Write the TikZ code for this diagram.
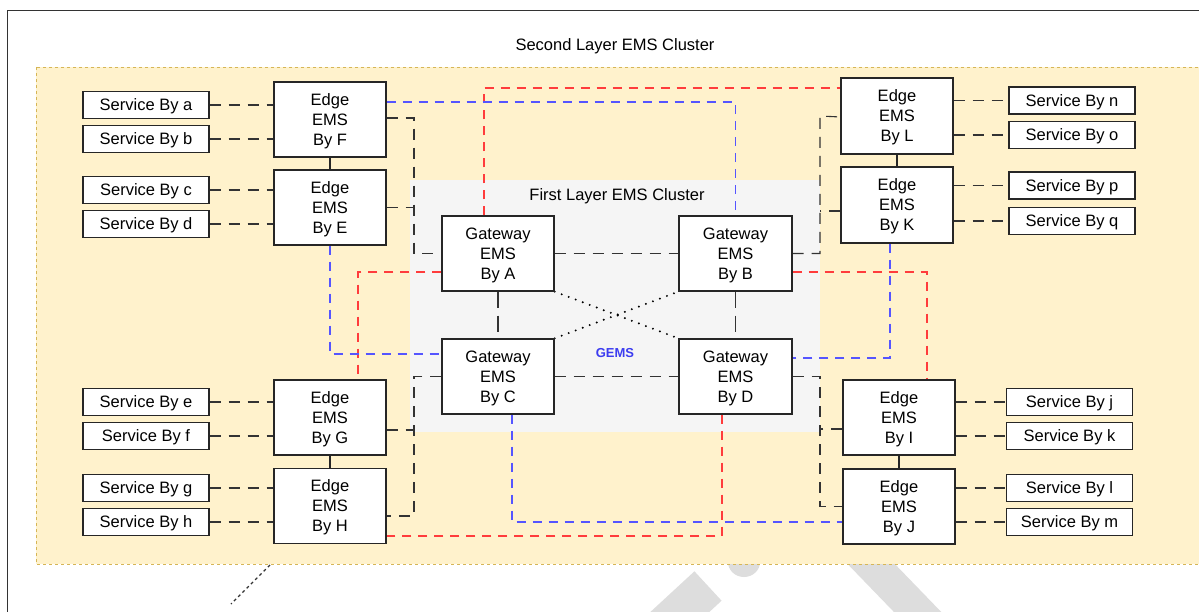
\documentclass[tikz,border=0pt]{standalone}
\usepackage{fontspec}
\setmainfont{Liberation Sans}
\pgfdeclarelayer{bg}
\pgfdeclarelayer{lines}
\pgfsetlayers{bg,lines,main}
\definecolor{yelfill}{HTML}{FFF2CC}
\definecolor{yelline}{HTML}{D6B656}
\definecolor{grfill}{HTML}{F5F5F5}
\definecolor{wmgray}{HTML}{DDDDDD}
\definecolor{redl}{RGB}{255,60,60}
\definecolor{bluel}{RGB}{85,85,255}
\definecolor{gemsblue}{RGB}{60,60,240}
\tikzset{
  txt/.style={font=\fontsize{16.5}{20}\selectfont},
  svc/.style={draw=black!85, line width=1.3pt, fill=white, minimum width=126pt, minimum height=27pt, inner sep=0pt, text height=11.9pt, text depth=0pt, txt},
  emsbox/.style={draw=black!85, line width=1.3pt, fill=white, minimum width=112pt, minimum height=75pt, inner sep=0pt, align=center, text depth=0pt, txt},
  blk/.style={draw=black!80, line width=1.1pt, dash pattern=on 11pt off 8pt},
  solidl/.style={draw=black!85, line width=1.1pt},
  rdash/.style={draw=redl, line width=1.1pt, dash pattern=on 9pt off 7pt},
  bdash/.style={draw=bluel, line width=1.1pt, dash pattern=on 9pt off 7pt},
  dots/.style={draw=black, line width=2.2pt, line cap=round, dash pattern=on 0pt off 7.5pt},
}
\begin{document}
\begin{tikzpicture}[x=1pt,y=-1pt]
\useasboundingbox (0,0) rectangle (1199,612);

% ---------- nodes ----------
\node[svc] (sa) at (146,105) {Service By a};
\node[svc] (sb) at (146,139) {Service By b};
\node[svc] (sc) at (146,190) {Service By c};
\node[svc] (sd) at (146,224) {Service By d};
\node[svc] (se) at (146,402) {Service By e};
\node[svc] (sf) at (146,436) {Service By f};
\node[svc] (sg) at (146,488) {Service By g};
\node[svc] (sh) at (146,522) {Service By h};

\node[svc] (sn) at (1072,100.5) {Service By n};
\node[svc] (so) at (1072,135) {Service By o};
\node[svc] (sp) at (1072,185.5) {Service By p};
\node[svc] (sq) at (1072,221) {Service By q};
\node[svc] (sj) at (1069.5,402) {Service By j};
\node[svc] (sk) at (1069.5,436) {Service By k};
\node[svc] (sl) at (1069.5,488) {Service By l};
\node[svc] (sm) at (1069.5,522) {Service By m};

\node[emsbox] (F) at (330,119.5) {Edge\\EMS\\ By F};
\node[emsbox] (E) at (330,207.5) {Edge\\EMS\\ By E};
\node[emsbox] (G) at (330,417.5) {Edge\\EMS\\ By G};
\node[emsbox] (H) at (330,506) {Edge\\EMS\\ By H};
\node[emsbox, minimum height=76pt] (L) at (897,116) {Edge\\EMS\\ By L};
\node[emsbox, minimum height=76pt] (K) at (897,205) {Edge\\EMS\\ By K};
\node[emsbox] (I) at (899,417.5) {Edge\\EMS\\ By I};
\node[emsbox] (J) at (899,506.5) {Edge\\EMS\\ By J};

\node[emsbox] (A) at (498,253.5) {Gateway\\EMS\\By A};
\node[emsbox, minimum width=113pt] (B) at (735.5,253.5) {Gateway\\EMS\\By B};
\node[emsbox] (C) at (498,376.5) {Gateway\\EMS\\By C};
\node[emsbox, minimum width=113pt] (D) at (735.5,376.5) {Gateway\\EMS\\By D};

\node[txt] (t2) at (615,46) {Second Layer EMS Cluster};
\node[txt] (t1) at (617,196) {First Layer EMS Cluster};
\node[font=\fontsize{13}{15}\selectfont\bfseries, text=gemsblue] (gems) at (615,353) {GEMS};

\coordinate (lbus) at (414,0);
\coordinate (rbus) at (820,0);
\coordinate (tail1) at (270,565);
\coordinate (tail2) at (231,604);

% ---------- background ----------
\begin{pgfonlayer}{bg}
  \draw[line width=40pt, wmgray] (708,586) -- (630,658);
  \fill[wmgray] (744,562) ellipse (16 and 15);
  \draw[line width=34pt, wmgray] (848,540) -- (935,630);
  \draw[draw=black!80, line width=1.2pt] (7.5,620) -- (7.5,10.5) -- (1210,10.5);
  \draw[fill=yelfill, draw=yelline, line width=0.9pt, dash pattern=on 3pt off 3pt] (36,67) rectangle (1215,564);
  \fill[grfill] (410,180) rectangle (820,432);
\end{pgfonlayer}

% ---------- connectors ----------
\begin{pgfonlayer}{lines}
  % services to edges
  \foreach \s/\e in {sa/F,sb/F,sc/E,sd/E,se/G,sf/G,sg/H,sh/H}
    \draw[blk] (\s.east) -- (\s -| \e.west);
  \foreach \s/\e in {sn/L,so/L,sp/K,sq/K,sj/I,sk/I,sl/J,sm/J}
    \draw[blk] (\s -| \e.east) -- (\s.west);
  % edge to edge
  \draw[solidl] (F.south) -- (E.north);
  \draw[solidl] (G.south) -- (H.north);
  \draw[solidl] (L.south) -- (K.north);
  \draw[solidl] (I.south) -- (J.north);
  % edges to gateways (black)
  \draw[blk] ([yshift=1.5pt]F.east) -| (lbus |- A.west) -- (A.west);
  \draw[blk] (E.east) -- (E.east -| lbus);
  \draw[blk] (C.west) -| (lbus |- 0,516) -- ([yshift=-10pt]H.east);
  \draw[blk] ([yshift=-12.5pt]G.east) -- ([yshift=-12.5pt]G.east -| lbus);
  \draw[blk] (B.east) -| (rbus |- L.west) -- ([yshift=-1pt]L.west);
  \draw[blk] ([yshift=-6pt]K.west) -- ([yshift=-6pt]K.west -| rbus);
  \draw[blk] (D.east) -| (rbus |- J.west) -- (J.west);
  \draw[blk] ([yshift=-11.5pt]I.west) -- ([yshift=-11.5pt]I.west -| rbus);
  % gateway mesh
  \draw[blk] (A.east) -- (B.west);
  \draw[blk] (C.east) -- (D.west);
  \draw[blk, dash pattern=on 16pt off 8pt] (A.south) -- (C.north);
  \draw[blk, dash pattern=on 16pt off 8pt] (B.south) -- (D.north);
  \draw[dots] (A.south east) -- (D.north west);
  \draw[dots] (C.north east) -- (B.south west);
  % red
  \draw[rdash] ([xshift=-14pt]A.north) |- ([yshift=28pt]L.west);
  \draw[rdash] ([yshift=-18.5pt]A.west) -| ([xshift=28pt]G.north);
  \draw[rdash] ([yshift=-18.5pt]B.east) -| ([xshift=28pt]I.north);
  \draw[rdash] ([xshift=-13.5pt]D.south) |- ([yshift=-30pt]H.east);
  % blue
  \draw[bdash] ([yshift=17.5pt]F.east) -| (B.north);
  \draw[bdash] (E.south) |- ([yshift=22.5pt]C.west);
  \draw[bdash] ([xshift=-7pt]K.south) |- ([yshift=18.5pt]D.east);
  \draw[bdash] ([xshift=14pt]C.south) |- ([yshift=-15.5pt]J.west);
  % tail
  \draw[draw=black!80, line width=1.3pt, dash pattern=on 3pt off 3pt] (tail1) -- (tail2);
\end{pgfonlayer}
\end{tikzpicture}
\end{document}
